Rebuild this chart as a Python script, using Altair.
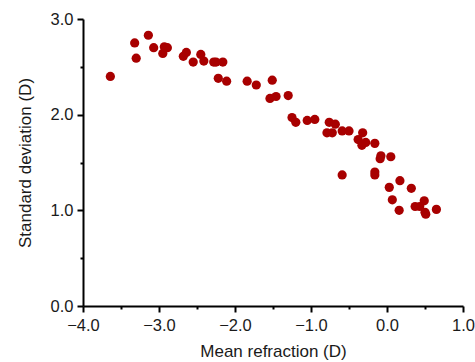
import altair as alt
import pandas as pd

mean_refraction = [
    -3.64, -3.32, -3.30, -3.14, -3.07, -2.95, -2.93, -2.89, -2.68, -2.64,
    -2.55, -2.45, -2.41, -2.28, -2.25, -2.16, -2.22, -2.11, -1.84, -1.72,
    -1.51, -1.54, -1.46, -1.30, -1.25, -1.20, -1.05, -0.95, -0.76, -0.68,
    -0.79, -0.72, -0.59, -0.50, -0.32, -0.38, -0.33, -0.28, -0.16, -0.08,
    -0.09, 0.05, -0.59, -0.16, -0.16, 0.03, 0.17, 0.32, 0.07, 0.16,
    0.37, 0.49, 0.43, 0.50, 0.51, 0.65,
]
std_dev = [
    2.40, 2.75, 2.59, 2.83, 2.70, 2.64, 2.71, 2.70, 2.61, 2.65,
    2.55, 2.63, 2.56, 2.55, 2.55, 2.55, 2.38, 2.35, 2.35, 2.31,
    2.36, 2.17, 2.19, 2.20, 1.97, 1.92, 1.94, 1.95, 1.92, 1.90,
    1.81, 1.81, 1.83, 1.83, 1.81, 1.74, 1.68, 1.71, 1.70, 1.57,
    1.54, 1.56, 1.37, 1.40, 1.37, 1.24, 1.31, 1.23, 1.11, 1.00,
    1.04, 1.10, 1.04, 0.98, 0.96, 1.01,
]

x_ticks = [-4.0, -3.5, -3.0, -2.5, -2.0, -1.5, -1.0, -0.5, 0.0, 0.5, 1.0]
y_ticks = [0.0, 0.5, 1.0, 1.5, 2.0, 2.5, 3.0]

df = pd.DataFrame({"x": mean_refraction, "y": std_dev})

is_major = "abs(datum.value - round(datum.value)) < 0.01"
label_expr = f"{is_major} ? replace(format(datum.value, '.1f'), '-', '\u2212') : ''"
tick_size = {"condition": {"test": is_major, "value": 6}, "value": 3}

common = dict(
    domainColor="black", domainWidth=2, tickColor="black", tickWidth=2,
    grid=False, labelFont="Liberation Sans", labelFontSize=16.5, labelColor="#1a1a1a",
    titleFont="Liberation Sans", titleFontSize=17, titleFontWeight="normal",
    titleColor="#1a1a1a", labelExpr=label_expr, tickSize=tick_size,
)

chart = alt.Chart(df).mark_circle(size=85, opacity=1, color="#a80000").encode(
    x=alt.X("x:Q", scale=alt.Scale(domain=[-4, 1], nice=False, zero=False),
            axis=alt.Axis(values=x_ticks, title="Mean refraction (D)",
                          labelPadding=5, titlePadding=10, labelFlush=False, **common)),
    y=alt.Y("y:Q", scale=alt.Scale(domain=[0, 3], nice=False),
            axis=alt.Axis(values=y_ticks, title="Standard deviation (D)",
                          labelPadding=4, titlePadding=16, labelFlush=False, **common)),
).properties(
    width=380, height=287,
    autosize=alt.AutoSizeParams(type="none"),
    padding={"left": 83, "top": 19, "right": 12, "bottom": 56},
).configure_view(stroke=None)

chart.save("out.html", embed_options={"renderer": "svg", "actions": False})
